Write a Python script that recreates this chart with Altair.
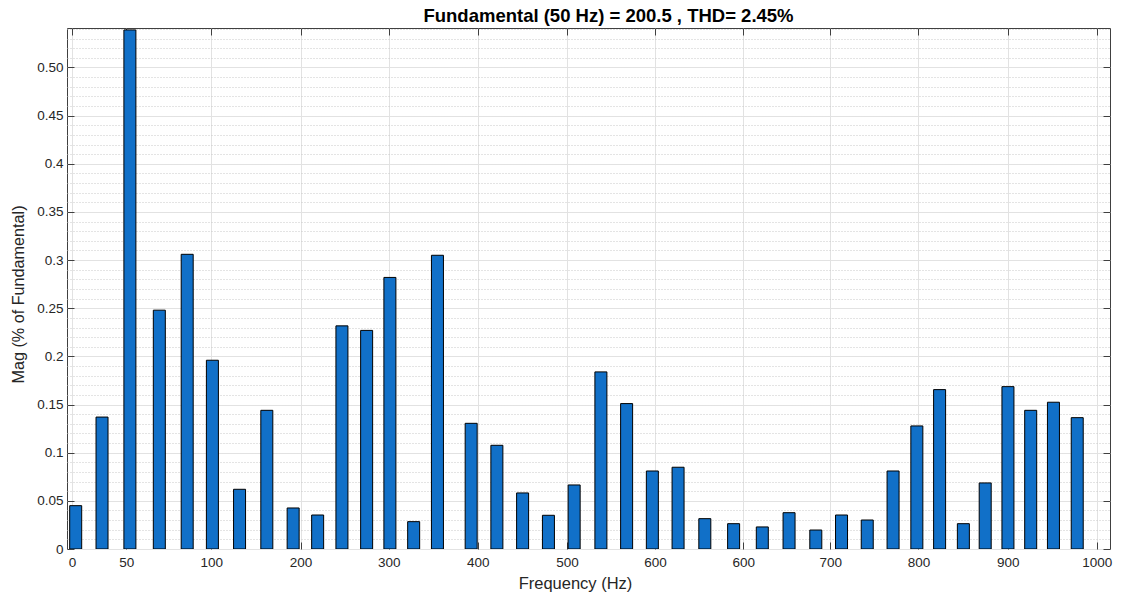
import json
import altair as alt
import pandas as pd

# ---- data ----
freq = [3.6, 29.3, 56.5, 85.2, 112.4, 137.0, 163.5, 190.1, 215.8, 239.7,
        263.4, 287.5, 310.2, 333.4, 356.6, 389.5, 414.6, 439.7, 464.9, 490.0,
        516.1, 541.2, 566.3, 591.4, 617.5, 645.6, 673.6, 699.7, 725.8, 750.9,
        776.0, 801.2, 824.4, 846.6, 869.8, 891.1, 913.3, 935.5, 957.7, 980.9]
mag = [0.045, 0.137, 0.539, 0.248, 0.306, 0.196, 0.062, 0.144, 0.0426, 0.0353,
       0.2317, 0.227, 0.282, 0.0284, 0.305, 0.1305, 0.1077, 0.0582, 0.035, 0.0665,
       0.1839, 0.151, 0.081, 0.0849, 0.0315, 0.0263, 0.0229, 0.0377, 0.0197, 0.0353,
       0.0301, 0.081, 0.1278, 0.1655, 0.0263, 0.0686, 0.1686, 0.144, 0.1524, 0.1364]

x_tick_values = [0, 53, 136, 223, 309, 396, 483, 569, 655, 740, 826, 913, 1000]
x_tick_labels = ["0", "50", "100", "200", "300", "400", "500", "600", "600",
                 "700", "800", "900", "1000"]
y_tick_values = [0, 0.05, 0.1, 0.15, 0.2, 0.25, 0.3, 0.35, 0.4, 0.45, 0.5]
y_tick_labels = ["0", "0.05", "0.1", "0.15", "0.2", "0.25", "0.3", "0.35",
                 "0.4", "0.45", "0.50"]
y_minor_values = [round(i * 0.01, 2) for i in range(1, 55) if i % 5 != 0]

df = pd.DataFrame({"freq": freq, "mag": mag})

FONT = "Liberation Sans"
TXT = "#262626"
FRAME = "#404040"

x_label_expr = "{}[indexof({}, datum.value)]".format(json.dumps(x_tick_labels), json.dumps(x_tick_values))
y_label_expr = "{}[indexof({}, datum.value)]".format(json.dumps(y_tick_labels), json.dumps(y_tick_values))

xscale = alt.Scale(domain=[0, 1008], nice=False, zero=False)
yscale = alt.Scale(domain=[0, 0.541], nice=False, zero=True)

x_main = alt.Axis(orient="bottom", values=x_tick_values, labelExpr=x_label_expr,
                  grid=True, gridColor="#e2e2e2", gridWidth=1,
                  ticks=False, tickSize=0, domain=False,
                  labelFont=FONT, labelFontSize=13.5, labelColor=TXT, labelPadding=6,
                  labelOverlap=False, labelFlush=False, labelBound=False,
                  title="Frequency (Hz)", titleFont=FONT, titleFontSize=16.5,
                  titleFontWeight="normal", titleColor=TXT, titlePadding=7,
                  titleX=508)
x_tick_bottom = alt.Axis(orient="bottom", values=x_tick_values, labels=False, grid=False,
                         domain=False, ticks=True, tickSize=7, offset=-7,
                         tickColor=FRAME, title=None)
x_tick_top = alt.Axis(orient="top", values=x_tick_values, labels=False, grid=False,
                      domain=False, ticks=True, tickSize=7, offset=-7,
                      tickColor=FRAME, title=None)

y_main = alt.Axis(orient="left", values=y_tick_values, labelExpr=y_label_expr,
                  grid=True, gridColor="#e2e2e2", gridWidth=1,
                  ticks=False, tickSize=0, domain=False,
                  labelFont=FONT, labelFontSize=13.5, labelColor=TXT, labelPadding=4,
                  labelOverlap=False, labelBound=False, labelFlush=False,
                  title="Mag (% of Fundamental)", titleFont=FONT, titleFontSize=16.2,
                  titleFontWeight="normal", titleColor=TXT, titlePadding=10,
                  titleY=266)
y_minor = alt.Axis(orient="left", values=y_minor_values, labels=False, ticks=False,
                   domain=False, grid=True, gridDash=[1, 2], gridColor="#c8c8c8",
                   gridWidth=1, title=None)
y_tick_left = alt.Axis(orient="left", values=y_tick_values, labels=False, grid=False,
                       domain=False, ticks=True, tickSize=7, offset=-7,
                       tickColor=FRAME, title=None)
y_tick_right = alt.Axis(orient="right", values=y_tick_values, labels=False, grid=False,
                        domain=False, ticks=True, tickSize=7, offset=-7,
                        tickColor=FRAME, title=None)

base = alt.Chart(df)

bars = base.mark_bar(size=12, orient="vertical", color="#1170C8", stroke="#000000",
                     strokeWidth=1, clip=True).encode(
    x=alt.X("freq:Q", scale=xscale, axis=x_main),
    y=alt.Y("mag:Q", scale=yscale, axis=y_main),
)
g1 = base.mark_point(opacity=0).encode(
    x=alt.X("freq:Q", scale=xscale, axis=x_tick_bottom),
    y=alt.Y("mag:Q", scale=yscale, axis=y_minor),
)
g2 = base.mark_point(opacity=0).encode(
    x=alt.X("freq:Q", scale=xscale, axis=x_tick_top),
    y=alt.Y("mag:Q", scale=yscale, axis=y_tick_left),
)
g3 = base.mark_point(opacity=0).encode(
    x=alt.X("freq:Q", scale=xscale, axis=None),
    y=alt.Y("mag:Q", scale=yscale, axis=y_tick_right),
)

chart = alt.layer(g1, g2, g3, bars).resolve_axis(
    x="independent", y="independent"
).properties(
    width=1043, height=521,
    autosize=alt.AutoSizeParams(type="none"),
    padding={"left": 67, "top": 28, "right": 12, "bottom": 48},
    background="white",
    title=alt.TitleParams("Fundamental (50 Hz) = 200.5 , THD= 2.45%", font=FONT,
                          fontSize=18.5, fontWeight="bold", color="#000000",
                          anchor="middle", dx=20, offset=-13, baseline="alphabetic"),
).configure_view(stroke=FRAME, strokeWidth=1, fill="white")

chart.save("out.html", embed_options={"renderer": "svg", "actions": False})
